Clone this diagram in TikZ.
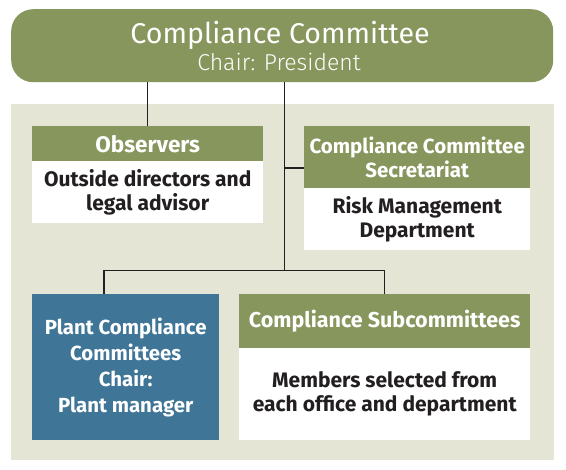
\documentclass[tikz,border=0pt]{standalone}
\usepackage{fontspec}
\setmainfont{Fira Sans}
\newfontfamily\lightfont{Fira Sans Light}
\definecolor{hdrgreen}{HTML}{87965C}
\definecolor{panelbg}{HTML}{E4E5D5}
\definecolor{plantblue}{HTML}{3F7596}
\definecolor{darktext}{HTML}{231F20}
\begin{document}
\begin{tikzpicture}[x=1pt,y=-1pt,
  hdr/.style={fill=hdrgreen, text=white, font=\bfseries\fontsize{20.5}{24}\selectfont, align=center, anchor=north west, inner sep=0pt},
  bodybox/.style={fill=white, text=darktext, font=\bfseries\fontsize{21}{24}\selectfont, align=center, anchor=north west, inner sep=0pt},
  conn/.style={draw=darktext, line width=1.1pt}]
\useasboundingbox (0,0) rectangle (566,470);
\fill[white] (0,0) rectangle (566,470);
\fill[panelbg] (11,104) rectangle (554,460);
% top
\node[fill=hdrgreen, rounded corners=22pt, minimum width=542pt, minimum height=73pt, anchor=north west, inner sep=0pt] (cc) at (11,9) {};
\node[text=white, font=\fontsize{28.6}{30}\selectfont] (cct) at (280,35) {Compliance Committee};
\node[text=white, font=\lightfont\fontsize{23}{25}\selectfont] (ccs) at (279,62) {Chair: President};
% observers
\node[hdr, font=\bfseries\fontsize{22.5}{24}\selectfont, minimum width=231pt, minimum height=35pt] (obs) at (32,126) {Observers};
\node[bodybox, minimum width=231pt, minimum height=62pt] (obsb) at (32,161) {Outside directors and\\legal advisor};
% secretariat
\node[hdr, minimum width=226pt, minimum height=62pt] (sec) at (304,126) {Compliance Committee\\Secretariat};
\node[bodybox, minimum width=226pt, minimum height=62pt] (secb) at (304,188) {Risk Management\\Department};
% plant
\node[fill=plantblue, text=white, font=\bfseries\fontsize{20.4}{26}\selectfont, align=center, anchor=north west, inner sep=0pt, minimum width=187pt, minimum height=146pt] (plant) at (32,294) {Plant Compliance\\Committees\\Chair:\\Plant manager};
% subcommittees
\node[hdr, font=\bfseries\fontsize{21.5}{24}\selectfont, minimum width=291pt, minimum height=54pt] (sub) at (239,294) {Compliance Subcommittees};
\node[bodybox, minimum width=291pt, minimum height=92pt] (subb) at (239,348) {Members selected from\\each office and department};
% connectors
\coordinate (j) at (284.5,270.5);
\coordinate (sj) at (284.5,168);
\coordinate (pj) at (104,270.5);
\draw[conn] (obs.north) -- (obs.north |- cc.south);
\draw[conn] (cc.south -| j) -- (j);
\draw[conn] (sj) -- (sj -| sec.west);
\draw[conn] (pj) -- (j) -| (sub.north);
\draw[conn] (pj) -- (pj |- plant.north);
\end{tikzpicture}
\end{document}
